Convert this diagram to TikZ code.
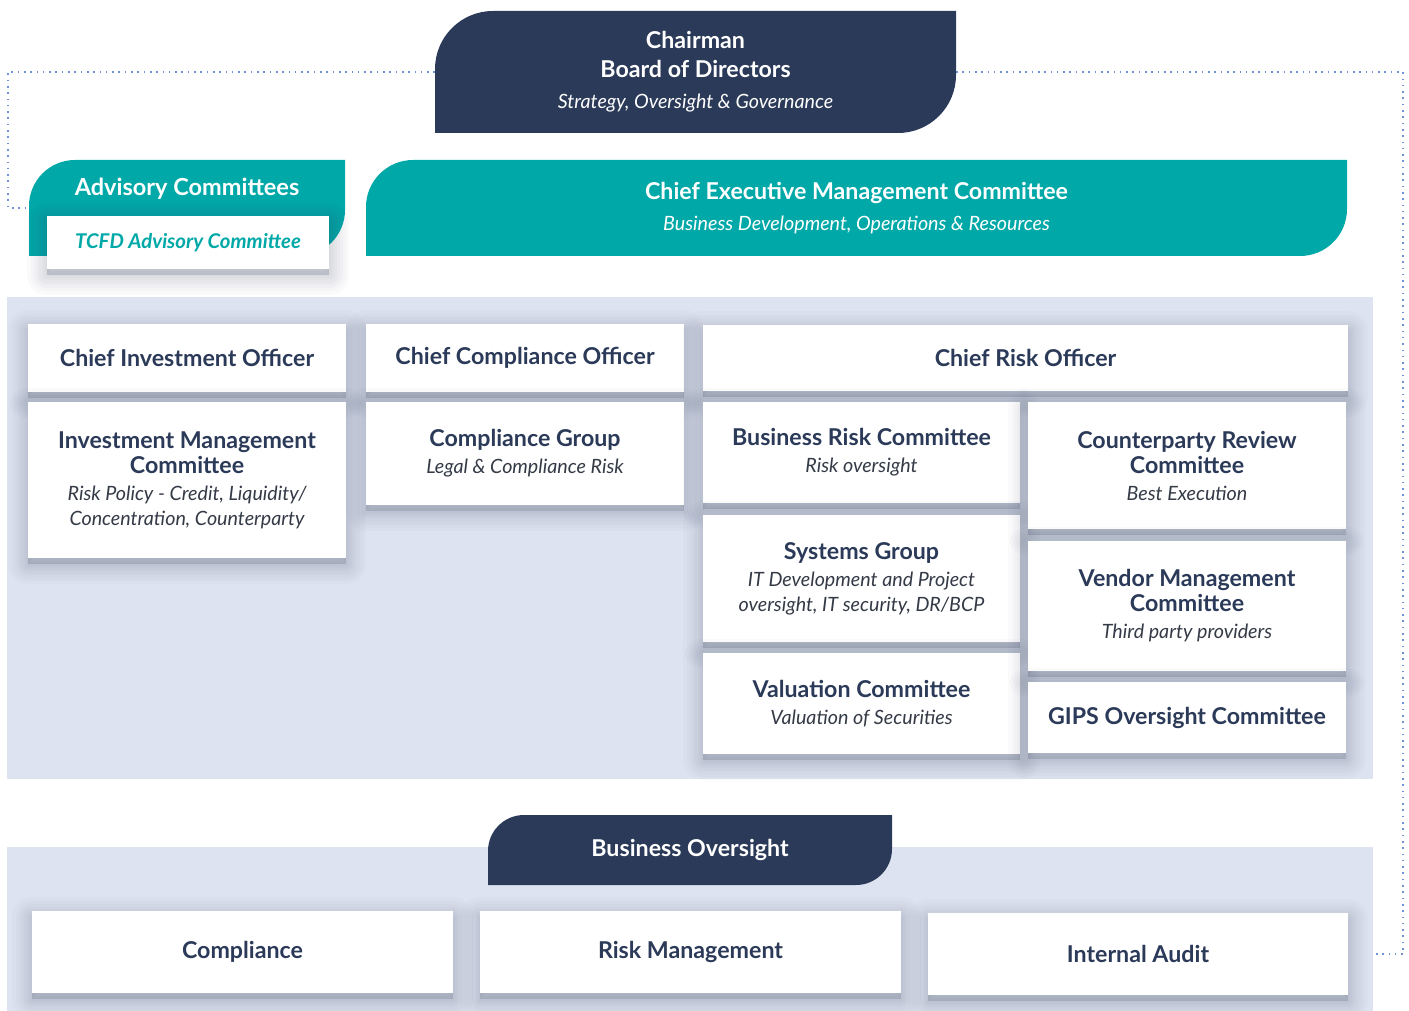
\documentclass[tikz,border=0pt]{standalone}
\usepackage{fontspec}
\setmainfont{Lato}
\usetikzlibrary{positioning,calc,backgrounds,shadows}
\definecolor{navy}{HTML}{2B3A58}
\definecolor{tealbox}{HTML}{00A8A8}
\definecolor{panelbg}{HTML}{DDE3F0}
\definecolor{dotblue}{HTML}{6F93D6}
\definecolor{ink}{HTML}{343A46}
\definecolor{shade}{HTML}{3A4460}
\newcommand{\subline}[1]{{\mdseries\itshape\fontsize{19.7}{25}\selectfont\color{ink}#1}}
\newcommand{\tabline}[1]{{\mdseries\itshape\fontsize{19.7}{25}\selectfont #1}}

\begin{document}
\begin{tikzpicture}[x=1pt,y=1pt,
  panel node/.style={fill=panelbg,inner sep=0pt,outer sep=0pt,minimum width=1366pt},
  soft/.style={general shadow={fill=shade,draw=shade,line join=round,line width=#1,opacity=.022,shadow yshift=-6pt}},
  box node/.style={fill=white,inner sep=0pt,outer sep=0pt,align=center,text=navy,
    font=\fontsize{23.2}{25}\selectfont\bfseries,
    soft=40pt,soft=33pt,soft=27pt,soft=21pt,soft=16pt,soft=11pt,soft=7pt,soft=3pt},
  tab node/.style 2 args={inner sep=0pt,outer sep=0pt,align=center,text=white,
    font=\fontsize{23.2}{29}\selectfont\bfseries,
    path picture={\fill[#1] (path picture bounding box.south west)
      -- ([yshift=-#2]path picture bounding box.north west)
      arc[start angle=180,end angle=90,radius=#2]
      -- (path picture bounding box.north east)
      -- ([yshift=#2]path picture bounding box.south east)
      arc[start angle=0,end angle=-90,radius=#2] -- cycle;}},
  dot line/.style={dotblue,line width=1.8pt,dash pattern=on 1.6pt off 4.7pt}]

  \useasboundingbox (0,0) rectangle (1409,-1011);

  % top of the chart
  \node[panel node,minimum height=482pt] (toppanel) at (690,-538) {};
  \node[tab node={navy}{58pt},minimum width=521pt,minimum height=122pt] (chair) at (695.5,-72)
    {Chairman\\Board of Directors\\[2pt]\tabline{Strategy, Oversight \& Governance}};
  \node[tab node={tealbox}{46pt},minimum width=316pt,minimum height=96pt] (adv) at (187,-208) {};
  \node[text=white,font=\fontsize{23.5}{25}\selectfont\bfseries,anchor=base] (advtitle) at (187,-196)
    {Advisory Committees};
  \node[box node,minimum width=282pt,minimum height=53pt,text=tealbox,
    font=\fontsize{20.3}{25}\selectfont\bfseries\itshape] (tcfd) at (188,-242.5) {TCFD Advisory Committee};
  \node[tab node={tealbox}{47pt},minimum width=981pt,minimum height=96pt] (cemc) at (856.5,-208)
    {Chief Executive Management Committee\\[2pt]\tabline{Business Development, Operations \& Resources}};

  % officers and committees
  \node[box node,minimum width=318pt,minimum height=68pt] (cio) at (187,-358) {Chief Investment Officer};
  \node[box node,minimum width=318pt,minimum height=68pt,right=20pt of cio] (cco) {Chief Compliance Officer};
  \node[box node,minimum width=645pt,minimum height=66pt,right=19pt of cco] (cro) {Chief Risk Officer};
  \node[box node,minimum width=318pt,minimum height=156pt,below=10pt of cio] (imc)
    {Investment Management\\Committee\\[2pt]\subline{Risk Policy - Credit, Liquidity/}\\\subline{Concentration, Counterparty}};
  \node[box node,minimum width=318pt,minimum height=103pt,below=10pt of cco] (cg)
    {Compliance Group\\[2pt]\subline{Legal \& Compliance Risk}};
  \node[box node,minimum width=317pt,minimum height=101pt,below=11pt of cro.south west,anchor=north west] (brc)
    {Business Risk Committee\\[2pt]\subline{Risk oversight}};
  \node[box node,minimum width=317pt,minimum height=127pt,below=12pt of brc] (sg)
    {Systems Group\\[2pt]\subline{IT Development and Project}\\\subline{oversight, IT security, DR/BCP}};
  \node[box node,minimum width=317pt,minimum height=101pt,below=11pt of sg] (vc)
    {Valuation Committee\\[2pt]\subline{Valuation of Securities}};
  \node[box node,minimum width=318pt,minimum height=127pt,right=8pt of brc.north east,anchor=north west] (crc)
    {Counterparty Review\\Committee\\[2pt]\subline{Best Execution}};
  \node[box node,minimum width=318pt,minimum height=130pt,below=12pt of crc] (vmc)
    {Vendor Management\\Committee\\[2pt]\subline{Third party providers}};
  \node[box node,minimum width=318pt,minimum height=71pt,below=11pt of vmc] (gips) {GIPS Oversight Committee};

  % business oversight
  \node[panel node,minimum height=164pt] (lowpanel) at (690,-929) {};
  \node[tab node={navy}{36pt},minimum width=404pt,minimum height=70pt] (bo) at (690,-850) {Business Oversight};
  \node[box node,minimum width=421pt,minimum height=82pt] (comp) at (242.5,-952) {Compliance};
  \node[box node,minimum width=421pt,minimum height=82pt,right=27pt of comp] (risk) {Risk Management};
  \node[box node,minimum width=420pt,minimum height=82pt,right=27pt of risk,yshift=-2pt] (audit) {Internal Audit};

  \begin{scope}[on background layer]
    \fill[white] (0,0) rectangle (1409,-1011);
    \draw[dot line] (chair.west) -| ([xshift=-21pt]adv.west) -- (adv.west);
    \draw[dot line] (chair.east) -| ($(lowpanel.east |- audit.east)+(30,0)$) -- (audit.east);
  \end{scope}
\end{tikzpicture}
\end{document}
